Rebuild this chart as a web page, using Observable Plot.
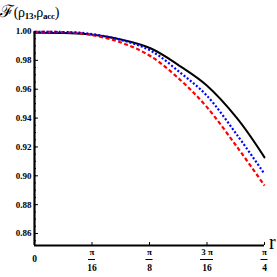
<!DOCTYPE html>
<html><head><meta charset="utf-8">
<script src="https://cdn.jsdelivr.net/npm/d3@7"></script>
<script src="https://cdn.jsdelivr.net/npm/@observablehq/plot@0.6"></script>
<style>
body{margin:0;background:#fff;}
#wrap{position:relative;width:277px;height:277px;overflow:hidden;background:#fff;}
#title{position:absolute;left:0px;top:1px;font-family:"Liberation Serif","DejaVu Serif",serif;font-size:14px;line-height:22px;color:#000;white-space:nowrap;letter-spacing:-0.3px;}
#title .F{font-size:17px;}
#title sub{font-size:9px;font-weight:bold;vertical-align:-2px;}
#rlab{position:absolute;left:269px;top:231px;font-family:"Liberation Serif",serif;font-size:20px;line-height:22px;}
</style></head>
<body><div id="wrap"><div id="chart"></div><div id="title"><span class="F">ℱ</span>(ρ<sub>13</sub>,ρ<sub>acc</sub>)</div><div id="rlab">r</div></div>
<script>
// r values (radians)
const r = [0, 0.0873, 0.1749, 0.2949, 0.3979, 0.5008, 0.5865, 0.6928, 0.7854];
// series values
const fBlack = [0.9991, 0.9990, 0.9982, 0.9944, 0.9882, 0.9755, 0.9629, 0.9396, 0.9128];
const fBlue  = [0.9998, 0.9997, 0.9988, 0.9942, 0.9866, 0.9710, 0.9560, 0.9280, 0.9013];
const fRed   = [0.9998, 0.9996, 0.9983, 0.9924, 0.9827, 0.9659, 0.9481, 0.9197, 0.8932];
// ticks
const yTicks = [0.86, 0.88, 0.90, 0.92, 0.94, 0.96, 0.98, 1.00];
const yMinor = d3.range(171, 201).map(k => k / 200);
const xTicks = [0, Math.PI / 16, Math.PI / 8, 3 * Math.PI / 16, Math.PI / 4];
const xPlain = ["0", "", "", "", ""];
const xNum = ["", "π", "π", "3 π", "π"];
const xDen = ["", "16", "8", "16", "4"];
const yMin = 0.8517, yMax = 1.0;

const rows = (ys) => r.map((x, i) => ({r: x, f: ys[i]}));
const font = "Liberation Serif";
const narrowBars = xTicks.filter((d, i) => xNum[i] === "π");
const wideBars = xTicks.filter((d, i) => xNum[i] === "3 π");

const chart = Plot.plot({
  width: 277, height: 277,
  marginLeft: 34, marginRight: 13, marginTop: 31, marginBottom: 32,
  x: {domain: [0, Math.PI / 4], axis: null},
  y: {domain: [yMin, yMax], label: null},
  style: {fontFamily: font, background: "white", color: "black"},
  marks: [
    Plot.tickY(yMinor, {y: d => d, insetRight: 228, stroke: "black", strokeWidth: 1}),
    Plot.tickY(yTicks, {y: d => d, insetRight: 226, stroke: "black", strokeWidth: 1}),
    Plot.tickX(xTicks.slice(1), {x: d => d, insetTop: 211, stroke: "black", strokeWidth: 1}),
    Plot.axisY(yTicks, {tickSize: 0, tickPadding: 3, tickFormat: d => d.toFixed(2), fontWeight: "bold", fontSize: 9, label: null}),
    Plot.text(xTicks, {x: d => d, text: (d, i) => xPlain[i], frameAnchor: "bottom", dy: 16, fontSize: 9.5, fontWeight: "bold"}),
    Plot.text(xTicks, {x: d => d, text: (d, i) => xNum[i], frameAnchor: "bottom", dy: 9.5, fontSize: 9, fontWeight: "bold"}),
    Plot.ruleY(narrowBars, {x1: d => d, x2: d => d, y: () => yMin, dy: 14, insetLeft: -3.5, insetRight: -3.5, stroke: "black", strokeWidth: 1}),
    Plot.ruleY(wideBars, {x1: d => d, x2: d => d, y: () => yMin, dy: 14, insetLeft: -6.5, insetRight: -6.5, stroke: "black", strokeWidth: 1}),
    Plot.text(xTicks, {x: d => d, text: (d, i) => xDen[i], frameAnchor: "bottom", dy: 25, fontSize: 9.5, fontWeight: "bold"}),
    Plot.line(rows(fBlack), {x: "r", y: "f", stroke: "black", strokeWidth: 2, curve: "catmull-rom"}),
    Plot.line(rows(fRed), {x: "r", y: "f", stroke: "#ff0000", strokeWidth: 2.2, strokeDasharray: "4,2.5", strokeLinecap: "butt", curve: "catmull-rom"}),
    Plot.line(rows(fBlue), {x: "r", y: "f", stroke: "#0000ff", strokeWidth: 2.2, strokeDasharray: "2,2", strokeLinecap: "butt", curve: "catmull-rom"}),
    Plot.ruleX([0], {stroke: "black", strokeWidth: 2.2}),
    Plot.ruleY([yMin], {stroke: "black", strokeWidth: 2.2})
  ]
});
document.getElementById("chart").appendChild(chart);
</script>
</body></html>
